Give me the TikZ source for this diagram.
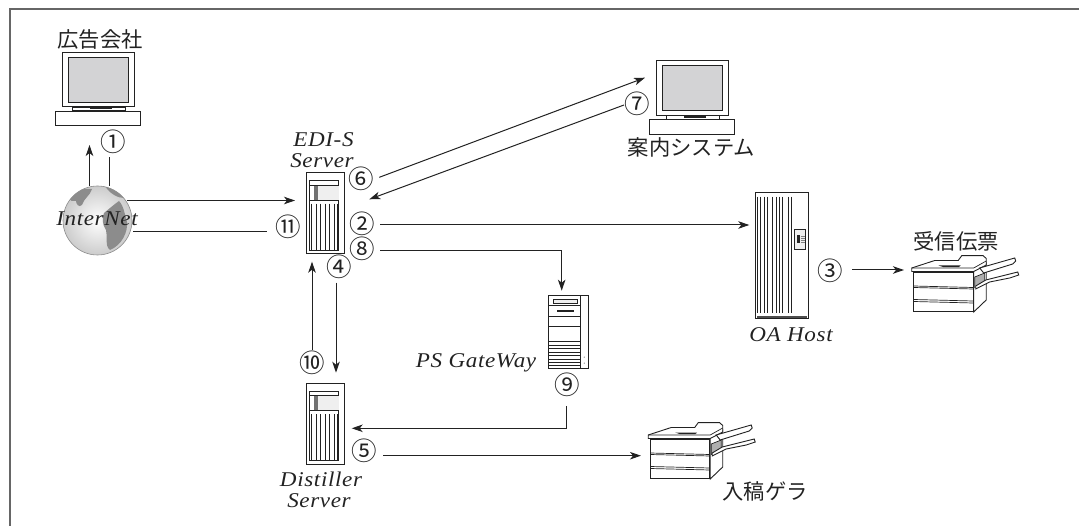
\documentclass[tikz,border=0pt]{standalone}
\usepackage{fontspec}
\usetikzlibrary{arrows.meta}
\newfontfamily\jpfont{Noto Sans CJK JP}
\newfontfamily\itfont[FakeStretch=1.1,LetterSpace=3]{Liberation Serif Italic}
\definecolor{ink}{HTML}{222222}
\definecolor{framegray}{HTML}{666666}
\definecolor{screengray}{HTML}{D3D3D5}
\definecolor{landgray}{HTML}{8C8C8C}
\definecolor{panelgray}{HTML}{EFEFEF}
\tikzset{
  x=1pt,y=-1pt,
  ln/.style={draw=ink,line width=0.9pt},
  thin ln/.style={draw=ink,line width=0.7pt},
  conn/.style={draw=ink,line width=1pt},
  arrowed/.style={conn,-{Stealth[length=11pt,width=7.5pt,inset=3pt]}},
  jp/.style={font=\jpfont\fontsize{21.3}{24}\selectfont,text=ink,inner sep=0pt},
  circ/.style={font=\jpfont\fontsize{25.5}{26}\selectfont,text=ink,inner sep=0pt},
  ital/.style={font=\itfont\fontsize{21}{24}\selectfont,text=ink,inner sep=0pt},
  monitorpic/.pic={
    \draw[ln,fill=white] (0,0) rectangle (72,54.5);
    \draw[thin ln,fill=screengray] (6,5) rectangle (66,50);
    \draw[thin ln,fill=white] (10.5,55) rectangle (63,58.5);
    \fill[ink] (28,56) rectangle (50,57.5);
    \draw[ln,fill=white] (-6.5,59) rectangle (78.5,73.5);
  },
  serverpic/.pic={
    \draw[ln,fill=white] (0,0) rectangle (38,81);
    \draw[thin ln,fill=white] (3.5,8) rectangle (32.5,77.5);
    \fill[panelgray] (11.5,12.5) rectangle (32.5,27.5);
    \fill[landgray!80!black] (8,12.5) rectangle (11.7,27.5);
    \draw[ln] (3.5,12.5) -- (32.5,12.5) (3.5,27.5) -- (32.5,27.5);
    \foreach \sx in {5.5,10,14.5,19,23.5,28,31}
      \draw[thin ln] (\sx,31) -- (\sx,77);
  },
  gatewaypic/.pic={
    \draw[ln,fill=white] (0,0) rectangle (39.6,73);
    \draw[thin ln] (31.4,0) -- (31.4,73);
    \draw[thin ln] (0,9.3) -- (31.4,9.3) (0,20.3) -- (31.4,20.3) (0,30.3) -- (31.4,30.3);
    \draw[thin ln,fill=panelgray] (4.6,3.7) rectangle (28.3,7.2);
    \fill[ink] (8,14) rectangle (25.3,16);
    \foreach \sy in {46,49.5,53,56.5,60,63.5,67,70}
      \draw[thin ln] (0,\sy) -- (31.4,\sy);
    \fill[ink] (35.5,61.5) circle (0.5) (35.5,67.5) circle (0.5);
  },
  hostpic/.pic={
    \draw[ln,fill=white] (0,0) rectangle (53.7,125.6);
    \foreach \sx in {2.3,5.7,9,12.3,17.7,21,24.3,27.7,33.3,36.7}
      \draw[thin ln] (\sx,4) -- (\sx,120.5);
    \fill[ink!80] (2,123) rectangle (52,125.6);
    \draw[ln,fill=panelgray] (39.3,36.6) rectangle (50.7,56.6);
    \fill[ink] (41.5,42.5) rectangle (45,50);
    \foreach \sy in {43.5,45.5,47.5,49.5}
      \draw[gray,line width=0.5pt] (45.5,\sy) -- (49.5,\sy);
  },
  printerpic/.pic={
    % body side
    \draw[ln,fill=white] (60,-1) -- (72.5,-9) -- (72.5,28) -- (60,40) -- cycle;
    \draw[thin ln,fill=landgray!70] (61,5) -- (71,1) -- (71,11) -- (61,15.5) -- cycle;
    \draw[ln,fill=white] (0,0) rectangle (59.6,39.7);
    \draw[thin ln] (0,14) -- (59.6,15.5) (0,15.5) -- (59.6,17);
    \draw[thin ln] (0,27.5) -- (59.6,29) (0,29.5) -- (59.6,31);
    % top plate
    \draw[ln,fill=white] (-2,-4) -- (21,-11.5) -- (44.5,-11.5) -- (48,-16.3) -- (69.5,-16.3) -- (72.5,-13.5) -- (72.5,-7) -- (60,-0.5) -- (-2,-0.5) -- cycle;
    \draw[thin ln] (-2,-4) -- (60,-4) -- (72.5,-11);
    \fill[ink] (25,-6.5) -- (47,-6.5) -- (45,-4.8) -- (30,-4.8) -- cycle;
    % trays
    \draw[ln,fill=white] (66,-4) -- (101,-14) -- (102,-11) -- (99,-8) -- (70,1) -- cycle;
    \draw[ln,fill=white] (62,14) -- (72,8) -- (104,0) -- (105,3) -- (96,6) -- (76,10) -- (62,17) -- cycle;
  }
}
\begin{document}
\begin{tikzpicture}
\useasboundingbox (0,0) rectangle (1079,526);
% frame, open at right and bottom
\draw[framegray,line width=2pt] (1079,9.5) coordinate (framer) -- (9.5,9.5) coordinate (framec) -- (9.5,526) coordinate (frameb);

% icons
\pic (pcad) at (62,52) {monitorpic};
\pic (pcinfo) at (656,60.5) {monitorpic};
\pic (srvedi) at (306,172.7) {serverpic};
\pic (srvdist) at (306,383.2) {serverpic};
\pic (gate) at (548.7,295.7) {gatewaypic};
\pic (oahost) at (755,192.7) {hostpic};
\pic (prrecv) at (913.7,272) {printerpic};
\pic (prproof) at (650.2,439) {printerpic};

% globe
\begin{scope}
  \shade[inner color=white,outer color=black!20] (97.5,220.5) circle (34.5);
  \clip (97.5,220.5) circle (34.5);
  \fill[landgray] (68,197) .. controls (76,190) and (85,188) .. (92,189) .. controls (90,196) and (84,198) .. (82,205) .. controls (79,208) and (76,204) .. (76,201) .. controls (73,202) and (70,201) .. (68,197) -- cycle;
  \fill[landgray] (105,186) .. controls (112,188) and (120,192) .. (124,198) .. controls (118,198) and (110,194) .. (105,186) -- cycle;
  \fill[landgray] (104,213) .. controls (110,208) and (116,203) .. (119,201) .. controls (124,206) and (125,216) .. (127,222) .. controls (128,232) and (122,245) .. (110,250) .. controls (104,245) and (108,236) .. (106,230) .. controls (102,224) and (102,218) .. (104,213) -- cycle;
\end{scope}
\draw[black!45,line width=0.6pt] (97.5,220.5) circle (34.5);

% labels
\node[jp] (ladv) at (100,40) {広告会社};
\node[jp] (linfo) at (691.5,147) {案内システム};
\node[jp] (lrecv) at (956,241) {受信伝票};
\node[jp] (lproof) at (765,491) {入稿ゲラ};
\node[ital] (lnet) at (97,219) {InterNet};
\node[ital] (ledi) at (323.5,140) {EDI-S};
\node[ital] (lsrv) at (322,161) {Server};
\node[ital] (lps) at (476,363) {PS GateWay};
\node[ital] (loa) at (791,335) {OA Host};
\node[ital] (ldist) at (321,479) {Distiller};
\node[ital] (lsrvb) at (319,501) {Server};

% step numbers
\node[circ] (c1) at (113,142) {①};
\node[circ] (c2) at (362.3,224) {②};
\node[circ] (c3) at (830.7,270.7) {③};
\node[circ] (c4) at (339,266.7) {④};
\node[circ] (c5) at (364.3,450.7) {⑤};
\node[circ] (c6) at (361.7,179) {⑥};
\node[circ] (c7) at (637.3,104.3) {⑦};
\node[circ] (c8) at (362.3,249.3) {⑧};
\node[circ] (c9) at (567.7,385) {⑨};
\node[circ] (c10) at (312.3,363.3) {⑩};
\node[circ] (c11) at (288,227) {⑪};

% connector ends
\coordinate (a1s) at (89.5,186);   \coordinate (a1e) at (89.5,145);
\coordinate (b1s) at (109.5,186);  \coordinate (b1e) at (109.5,157.5);
\coordinate (a2s) at (127,200.5);  \coordinate (a2e) at (295,200.5);
\coordinate (a11s) at (133,231.5); \coordinate (a11e) at (267,231.5);
\coordinate (a6s) at (379.3,177.3);\coordinate (a6e) at (645,77.7);
\coordinate (a7s) at (624,105);    \coordinate (a7e) at (369.3,199.3);
\coordinate (a22s) at (380,225);   \coordinate (a22e) at (749.3,225);
\coordinate (a8s) at (380,250.5);  \coordinate (a8m) at (561.7,250.5); \coordinate (a8e) at (561.7,290.7);
\coordinate (a4s) at (336,282.7);  \coordinate (a4e) at (336,372.7);
\coordinate (a10s) at (312,350);   \coordinate (a10e) at (312,261.7);
\coordinate (a9s) at (566.7,406);  \coordinate (a9m) at (566.7,428.3); \coordinate (a9e) at (351.7,428.3);
\coordinate (a5s) at (383.3,455.7);\coordinate (a5e) at (641,455.7);
\coordinate (a3s) at (852.3,270);  \coordinate (a3e) at (904,270);

% connectors
\draw[arrowed] (a1s) -- (a1e);
\draw[conn] (b1s) -- (b1e);
\draw[arrowed] (a2s) -- (a2e);
\draw[conn] (a11s) -- (a11e);
\draw[arrowed] (a6s) -- (a6e);
\draw[arrowed] (a7s) -- (a7e);
\draw[arrowed] (a22s) -- (a22e);
\draw[arrowed] (a8s) -- (a8m) -- (a8e);
\draw[arrowed] (a4s) -- (a4e);
\draw[arrowed] (a10s) -- (a10e);
\draw[arrowed] (a9s) -- (a9m) -- (a9e);
\draw[arrowed] (a5s) -- (a5e);
\draw[arrowed] (a3s) -- (a3e);
\end{tikzpicture}
\end{document}
